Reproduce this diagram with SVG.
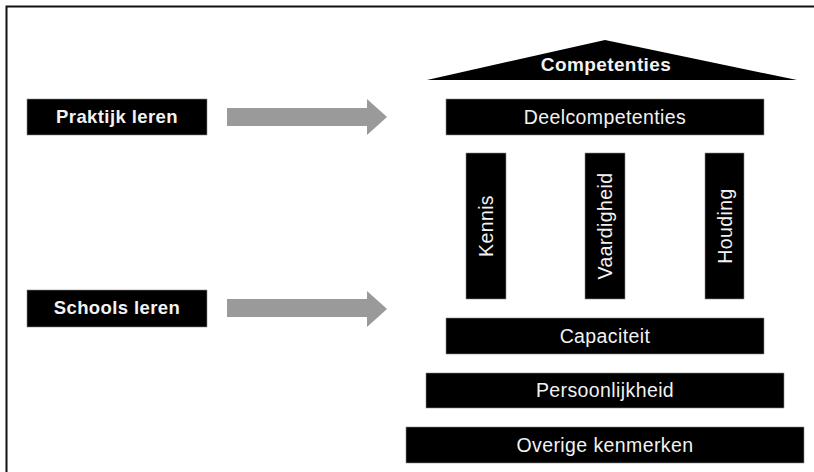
<svg xmlns="http://www.w3.org/2000/svg" width="814" height="472" viewBox="0 0 814 472">
  <style>
    .box { fill: #000; stroke: #8a8a8a; stroke-width: 0.6; }
    .lbl { fill: #f2f2f2; font-family: "Liberation Sans", Arial, sans-serif; font-size: 19.5px; letter-spacing: 0.4px; text-anchor: middle; }
    .bold { font-weight: bold; font-size: 18.5px; }
    .arrow { fill: #9a9a9a; }
  </style>
  <rect width="814" height="472" fill="#fff"/>
  <!-- frame: top and left edges -->
  <path d="M6.5 480 V6.5 H820" fill="none" stroke="#111" stroke-width="2"/>

  <g id="praktijk">
    <rect class="box" x="27" y="99" width="180" height="36"/>
    <text class="lbl bold" x="117" y="123">Praktijk leren</text>
  </g>
  <g id="schools">
    <rect class="box" x="27" y="290" width="180" height="37"/>
    <text class="lbl bold" x="117" y="314">Schools leren</text>
  </g>

  <g id="competenties">
    <polygon points="427,80 605,40 797,80" fill="#000"/>
    <text class="lbl bold" x="606" y="71" style="font-size:19px">Competenties</text>
  </g>
  <g id="deelcompetenties">
    <rect class="box" x="446" y="99" width="318" height="36"/>
    <text class="lbl" x="605" y="124">Deelcompetenties</text>
  </g>
  <g id="kennis">
    <rect class="box" x="466" y="153" width="40" height="146"/>
    <text class="lbl" transform="translate(493 226) rotate(-90)">Kennis</text>
  </g>
  <g id="vaardigheid">
    <rect class="box" x="585" y="153" width="40" height="146"/>
    <text class="lbl" transform="translate(612 226) rotate(-90)">Vaardigheid</text>
  </g>
  <g id="houding">
    <rect class="box" x="705" y="153" width="39" height="146"/>
    <text class="lbl" transform="translate(731.5 226) rotate(-90)">Houding</text>
  </g>
  <g id="capaciteit">
    <rect class="box" x="446" y="318" width="318" height="36"/>
    <text class="lbl" x="605" y="343">Capaciteit</text>
  </g>
  <g id="persoonlijkheid">
    <rect class="box" x="426" y="373" width="358" height="35"/>
    <text class="lbl" x="605" y="397">Persoonlijkheid</text>
  </g>
  <g id="overige">
    <rect class="box" x="406" y="427" width="398" height="36"/>
    <text class="lbl" x="605" y="452">Overige kenmerken</text>
  </g>

  <g id="connectors">
    <polygon class="arrow" points="227,108 367,108 367,99 387,117 367,135 367,126 227,126"/>
    <polygon class="arrow" points="227,299 367,299 367,291 387,309 367,327 367,317 227,317"/>
  </g>
</svg>
